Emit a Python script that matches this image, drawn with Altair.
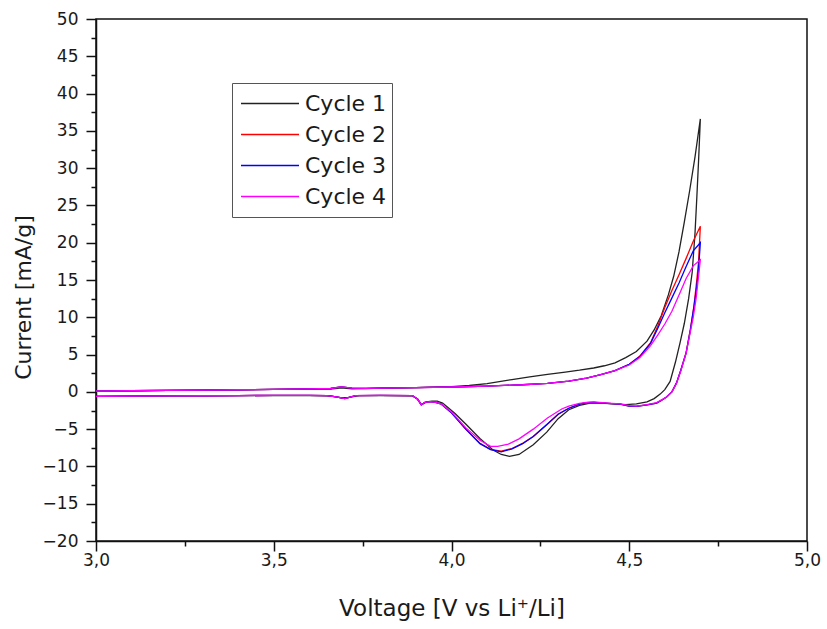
import altair as alt
import pandas as pd

# ---------------- data ----------------
cycles = ["Cycle 1", "Cycle 2", "Cycle 3", "Cycle 4"]
colors = ["#222222", "#ff0000", "#0000ff", "#ff00ff"]

# Cycle 1 - anodic sweep (3.0 -> 4.7 V)
c1_up_v = [3.00, 3.10, 3.20, 3.30, 3.40, 3.50, 3.60, 3.66, 3.69, 3.72, 3.76, 3.80, 3.90, 4.00,
           4.05, 4.10, 4.17, 4.22, 4.27, 4.32, 4.36, 4.40, 4.43, 4.46, 4.49, 4.52, 4.55, 4.57,
           4.59, 4.61, 4.625, 4.64, 4.655, 4.67, 4.685, 4.70]
c1_up_i = [0.10, 0.15, 0.20, 0.24, 0.28, 0.33, 0.36, 0.38, 0.55, 0.40, 0.42, 0.50, 0.56, 0.70,
           0.85, 1.10, 1.65, 2.00, 2.35, 2.65, 2.90, 3.20, 3.50, 3.90, 4.60, 5.40, 6.80, 8.30,
           10.2, 13.0, 15.5, 18.8, 22.8, 27.0, 31.5, 36.6]
# Cycle 1 - cathodic sweep (4.7 -> 3.0 V)
c1_dn_v = [4.695, 4.69, 4.685, 4.677, 4.667, 4.655, 4.643, 4.63, 4.615, 4.60, 4.587, 4.57, 4.55,
           4.52, 4.49, 4.455, 4.42, 4.39, 4.36, 4.33, 4.30, 4.268, 4.23, 4.19, 4.163, 4.14, 4.117,
           4.08, 4.04, 4.01, 3.99, 3.975, 3.96, 3.945, 3.93, 3.92, 3.915, 3.905, 3.89, 3.80, 3.74,
           3.71, 3.69, 3.66, 3.60, 3.50, 3.40, 3.30, 3.20, 3.10, 3.00]
c1_dn_i = [31.0, 26.0, 21.3, 16.0, 12.5, 9.2, 6.6, 4.0, 1.4, 0.3, -0.3, -0.9, -1.35,
           -1.6, -1.7, -1.6, -1.5, -1.5, -1.8, -2.4, -3.6, -5.4, -7.1, -8.4, -8.65, -8.4, -7.8,
           -6.25, -4.3, -2.9, -2.1, -1.5, -1.25, -1.25, -1.35, -1.6, -1.7, -1.0, -0.55, -0.5, -0.5,
           -0.75, -0.8, -0.55, -0.5, -0.5, -0.5, -0.52, -0.55, -0.58, -0.6]

# Cycle 2
c2_up_v = [3.00, 3.10, 3.20, 3.30, 3.40, 3.50, 3.60, 3.66, 3.69, 3.72, 3.76, 3.80, 3.90, 4.00,
           4.10, 4.20, 4.27, 4.33, 4.38, 4.42, 4.46, 4.50, 4.53, 4.56, 4.58, 4.60, 4.62, 4.64,
           4.66, 4.68, 4.70]
c2_up_i = [0.10, 0.15, 0.20, 0.24, 0.28, 0.33, 0.40, 0.45, 0.68, 0.50, 0.48, 0.50, 0.56, 0.65,
           0.78, 0.95, 1.15, 1.45, 1.85, 2.30, 2.85, 3.70, 4.80, 6.60, 8.80, 11.3, 13.6, 15.7,
           17.9, 20.2, 22.2]
c2_dn_v = [4.695, 4.69, 4.682, 4.672, 4.66, 4.645, 4.633, 4.62, 4.605, 4.59, 4.577, 4.55, 4.52,
           4.50, 4.474, 4.44, 4.40, 4.38, 4.36, 4.33, 4.30, 4.27, 4.23, 4.20, 4.17, 4.14, 4.11,
           4.08, 4.04, 4.00, 3.97, 3.955, 3.94, 3.925, 3.915, 3.905, 3.89, 3.80, 3.73, 3.70, 3.68,
           3.65, 3.60, 3.50, 3.40, 3.30, 3.20, 3.10, 3.00]
c2_dn_i = [17.5, 15.0, 11.5, 8.4, 5.3, 2.9, 1.2, 0.0, -0.7, -1.15, -1.5, -1.75, -1.95,
           -1.9, -1.65, -1.55, -1.4, -1.45, -1.65, -2.2, -3.0, -4.3, -6.0, -6.9, -7.6, -7.95, -7.7,
           -6.9, -5.0, -2.8, -1.6, -1.4, -1.3, -1.4, -1.75, -1.0, -0.5, -0.48, -0.5, -0.9, -0.7,
           -0.5, -0.46, -0.47, -0.5, -0.52, -0.55, -0.58, -0.6]

# Cycle 3
c3_up_v = [3.00, 3.10, 3.20, 3.30, 3.40, 3.50, 3.60, 3.66, 3.69, 3.72, 3.76, 3.80, 3.90, 4.00,
           4.10, 4.20, 4.27, 4.33, 4.38, 4.42, 4.46, 4.50, 4.53, 4.56, 4.58, 4.60, 4.62, 4.64,
           4.66, 4.68, 4.70]
c3_up_i = [0.10, 0.15, 0.20, 0.24, 0.28, 0.33, 0.40, 0.45, 0.68, 0.50, 0.48, 0.50, 0.56, 0.65,
           0.78, 0.95, 1.15, 1.45, 1.85, 2.30, 2.85, 3.70, 4.75, 6.50, 8.50, 10.6, 12.6, 14.6,
           16.8, 18.9, 20.0]
c3_dn_v = [4.695, 4.69, 4.682, 4.672, 4.66, 4.645, 4.633, 4.62, 4.605, 4.59, 4.577, 4.55, 4.52,
           4.50, 4.474, 4.44, 4.40, 4.38, 4.36, 4.33, 4.30, 4.27, 4.23, 4.20, 4.17, 4.14, 4.11,
           4.08, 4.04, 4.00, 3.97, 3.955, 3.94, 3.925, 3.915, 3.905, 3.89, 3.80, 3.73, 3.70, 3.68,
           3.65, 3.60, 3.50, 3.40, 3.30, 3.20, 3.10, 3.00]
c3_dn_i = [16.5, 14.2, 11.4, 8.3, 5.2, 2.9, 1.2, 0.0, -0.7, -1.15, -1.5, -1.75, -1.95,
           -1.9, -1.65, -1.55, -1.4, -1.45, -1.65, -2.2, -3.0, -4.3, -6.0, -6.95, -7.65, -8.05, -7.75,
           -6.95, -5.0, -2.8, -1.6, -1.4, -1.3, -1.4, -1.75, -1.0, -0.5, -0.48, -0.5, -0.9, -0.7,
           -0.5, -0.46, -0.47, -0.5, -0.52, -0.55, -0.58, -0.6]

# Cycle 4
c4_up_v = [3.00, 3.10, 3.20, 3.30, 3.40, 3.50, 3.60, 3.66, 3.69, 3.72, 3.76, 3.80, 3.90, 4.00,
           4.10, 4.20, 4.27, 4.33, 4.38, 4.42, 4.46, 4.50, 4.53, 4.56, 4.58, 4.60, 4.62, 4.64,
           4.66, 4.68, 4.70]
c4_up_i = [0.10, 0.15, 0.20, 0.24, 0.28, 0.33, 0.40, 0.45, 0.68, 0.50, 0.48, 0.50, 0.56, 0.65,
           0.78, 0.95, 1.15, 1.45, 1.85, 2.30, 2.85, 3.60, 4.60, 6.20, 7.60, 9.10, 10.8, 13.0,
           15.2, 16.9, 17.7]
c4_dn_v = [4.695, 4.688, 4.68, 4.67, 4.66, 4.645, 4.633, 4.62, 4.605, 4.59, 4.577, 4.55, 4.52,
           4.50, 4.474, 4.44, 4.40, 4.38, 4.36, 4.33, 4.31, 4.27, 4.23, 4.19, 4.16, 4.13, 4.11,
           4.08, 4.04, 4.00, 3.97, 3.955, 3.94, 3.925, 3.915, 3.905, 3.89, 3.80, 3.73, 3.70, 3.68,
           3.65, 3.60, 3.50, 3.40, 3.30, 3.20, 3.10, 3.00]
c4_dn_i = [15.5, 12.5, 10.0, 7.6, 5.2, 2.8, 1.15, 0.0, -0.7, -1.1, -1.45, -1.7, -1.9,
           -1.85, -1.6, -1.5, -1.35, -1.4, -1.55, -1.9, -2.3, -3.5, -5.0, -6.3, -7.0, -7.3, -7.3,
           -6.5, -4.8, -2.7, -1.6, -1.4, -1.3, -1.4, -1.75, -1.0, -0.5, -0.48, -0.5, -0.9, -0.7,
           -0.5, -0.46, -0.47, -0.5, -0.52, -0.55, -0.58, -0.6]

x_major = [3.0, 3.5, 4.0, 4.5, 5.0]
x_minor = [3.25, 3.75, 4.25, 4.75]
y_major = list(range(-20, 55, 5))
y_minor = [v + 2.5 for v in range(-20, 50, 5)]

# ---------------- build table ----------------
series = [
    ("Cycle 1", c1_up_v + c1_dn_v, c1_up_i + c1_dn_i),
    ("Cycle 2", c2_up_v + c2_dn_v, c2_up_i + c2_dn_i),
    ("Cycle 3", c3_up_v + c3_dn_v, c3_up_i + c3_dn_i),
    ("Cycle 4", c4_up_v + c4_dn_v, c4_up_i + c4_dn_i),
]
rows = []
for name, vs, cs in series:
    for k, (v, c) in enumerate(zip(vs, cs)):
        rows.append({"cycle": name, "V": v, "I": c, "idx": k})
df = pd.DataFrame(rows)

FONT = "DejaVu Sans"
TXT = "#1a1a1a"

xscale = alt.Scale(domain=[3.0, 5.0], nice=False, zero=False)
yscale = alt.Scale(domain=[-20, 50], nice=False, zero=False)

base = alt.Chart(df)

lines = base.mark_line(strokeWidth=1.3).encode(
    x=alt.X("V:Q", scale=xscale,
            axis=alt.Axis(orient="bottom", values=x_major,
                          labelExpr="replace(format(datum.value, '.1f'), '.', ',')",
                          tickSize=10, labelPadding=1, labelFlush=False,
                          title="Voltage [V vs Li⁺/Li]", titleFontSize=23,
                          titleBaseline="alphabetic", titleY=74)),
    y=alt.Y("I:Q", scale=yscale,
            axis=alt.Axis(orient="left", values=y_major, format="d",
                          tickSize=10, labelPadding=8, labelFlush=False,
                          title="Current [mA/g]",
                          titleBaseline="alphabetic", titleX=-66, titleY=278)),
    color=alt.Color("cycle:N", scale=alt.Scale(domain=cycles, range=colors),
                    legend=alt.Legend(title=None, orient="none", legendX=136, legendY=64,
                                      symbolType="stroke", symbolSize=3364,
                                      symbolStrokeWidth=1.5, clipHeight=31, rowPadding=0,
                                      padding=5, symbolOffset=3, labelOffset=5,
                                      labelFont=FONT, labelFontSize=22, labelColor=TXT,
                                      strokeColor="#555555", fillColor="white")),
    order="idx:Q",
)

minor = base.mark_line(opacity=0).encode(
    x=alt.X("V:Q", scale=xscale, title=None,
            axis=alt.Axis(orient="bottom", values=x_minor, labels=False, domain=False,
                          tickSize=5)),
    y=alt.Y("I:Q", scale=yscale, title=None,
            axis=alt.Axis(orient="left", values=y_minor, labels=False, domain=False,
                          tickSize=5)),
    detail="cycle:N",
    order="idx:Q",
)

chart = (
    alt.layer(lines, minor)
    .resolve_axis(x="independent", y="independent")
    .properties(width=711, height=522, background="white",
                autosize=alt.AutoSizeParams(type="none"),
                padding={"left": 96, "top": 19, "right": 20, "bottom": 88})
    .configure_view(stroke="#111111", strokeWidth=1.5)
    .configure_axis(grid=False, domainColor="#111111", domainWidth=1.5,
                    tickColor="#111111", tickWidth=1.5,
                    labelFont=FONT, labelFontSize=17, labelColor=TXT,
                    titleFont=FONT, titleFontSize=22, titleFontWeight="normal",
                    titleColor=TXT)
)

chart.save("out.html", embed_options={"renderer": "svg", "actions": False})
